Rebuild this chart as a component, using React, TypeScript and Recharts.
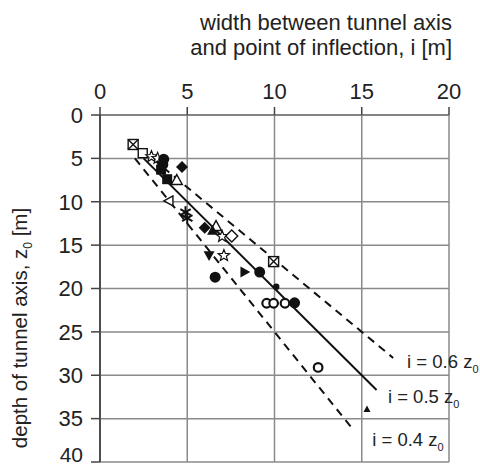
import React from "react";
import { ScatterChart, Scatter, XAxis, YAxis, CartesianGrid, Customized } from "recharts";

type P = { i: number; z: number };

const xTicks = [0, 5, 10, 15, 20];
const yTicks = [0, 5, 10, 15, 20, 25, 30, 35, 40];

// measured points (i [m], z0 [m])
const squareCross: P[] = [{ i: 1.9, z: 3.4 }, { i: 9.95, z: 16.9 }];
const squareOpen: P[] = [{ i: 2.45, z: 4.4 }];
const starOpen: P[] = [{ i: 2.95, z: 4.8 }, { i: 3.3, z: 5.0 }, { i: 7.0, z: 14.0 }, { i: 7.1, z: 16.2 }];
const circleFilled: P[] = [{ i: 3.65, z: 5.1 }, { i: 3.6, z: 5.7 }, { i: 6.6, z: 18.7 }, { i: 9.15, z: 18.1 }, { i: 11.15, z: 21.65 }];
const diamondFilled: P[] = [{ i: 4.7, z: 6.0 }, { i: 6.0, z: 13.0 }];
const squareFilled: P[] = [{ i: 3.85, z: 7.4 }, { i: 3.5, z: 6.3 }];
const triUpOpen: P[] = [{ i: 4.4, z: 7.5 }, { i: 6.65, z: 12.8 }];
const triLeftOpen: P[] = [{ i: 3.95, z: 9.9 }];
const asterisk: P[] = [{ i: 4.9, z: 11.2 }, { i: 5.0, z: 11.9 }];
const triUpFilled: P[] = [{ i: 6.45, z: 13.3 }];
const triUpSmall: P[] = [{ i: 15.3, z: 33.9 }];
const diamondOpen: P[] = [{ i: 7.55, z: 13.95 }];
const triDownFilled: P[] = [{ i: 6.25, z: 16.2 }];
const triRightFilled: P[] = [{ i: 8.3, z: 18.1 }];
const smallDot: P[] = [{ i: 10.1, z: 19.8 }];
const circleOpen: P[] = [{ i: 9.55, z: 21.7 }, { i: 9.95, z: 21.7 }, { i: 10.6, z: 21.7 }, { i: 12.5, z: 29.1 }];

// theoretical lines i = k * z0
const lineFactors = [0.6, 0.5, 0.4];
const lineZStart = [5, 5, 5];
const lineZEnd = [28, 31.7, 36.3];
const linePoints = lineFactors.map((k, n) => [
  { i: k * lineZStart[n], z: lineZStart[n] },
  { i: k * lineZEnd[n], z: lineZEnd[n] },
]);
const lineLabels = [
  { i: 17.6, z: 29.2, k: "0.6" },
  { i: 16.5, z: 33.2, k: "0.5" },
  { i: 15.6, z: 38.2, k: "0.4" },
];

const INK = "#111";
const TXT = "#222";
const FONT = "'Liberation Sans', Arial, sans-serif";

const tri = (cx: number, cy: number, s: number, dir: "up" | "down" | "left" | "right") => {
  if (dir === "up") return `${cx},${cy - s} ${cx + s},${cy + s * 0.8} ${cx - s},${cy + s * 0.8}`;
  if (dir === "down") return `${cx},${cy + s} ${cx + s},${cy - s * 0.8} ${cx - s},${cy - s * 0.8}`;
  if (dir === "left") return `${cx - s},${cy} ${cx + s * 0.8},${cy - s} ${cx + s * 0.8},${cy + s}`;
  return `${cx + s},${cy} ${cx - s * 0.8},${cy - s} ${cx - s * 0.8},${cy + s}`;
};

const starPts = (cx: number, cy: number, R: number, r: number) => {
  const pts: string[] = [];
  for (let k = 0; k < 10; k++) {
    const a = -Math.PI / 2 + (k * Math.PI) / 5;
    const rr = k % 2 === 0 ? R : r;
    pts.push(`${cx + rr * Math.cos(a)},${cy + rr * Math.sin(a)}`);
  }
  return pts.join(" ");
};

const shapes: Record<string, (p: any) => React.ReactElement> = {
  squareCross: ({ cx, cy }) => (
    <g stroke={INK} strokeWidth={1.4} fill="#fff">
      <rect x={cx - 5} y={cy - 5} width={10} height={10} />
      <line x1={cx - 5} y1={cy - 5} x2={cx + 5} y2={cy + 5} />
      <line x1={cx + 5} y1={cy - 5} x2={cx - 5} y2={cy + 5} />
    </g>
  ),
  squareOpen: ({ cx, cy }) => <rect x={cx - 4.5} y={cy - 4.5} width={9} height={9} fill="#fff" stroke={INK} strokeWidth={1.4} />,
  starOpen: ({ cx, cy }) => <polygon points={starPts(cx, cy, 6, 2.6)} fill="#fff" stroke={INK} strokeWidth={1.2} />,
  circleFilled: ({ cx, cy }) => <circle cx={cx} cy={cy} r={5.5} fill={INK} />,
  diamondFilled: ({ cx, cy }) => <polygon points={`${cx},${cy - 6} ${cx + 6},${cy} ${cx},${cy + 6} ${cx - 6},${cy}`} fill={INK} />,
  squareFilled: ({ cx, cy }) => <rect x={cx - 5} y={cy - 5} width={10} height={10} fill={INK} />,
  triUpOpen: ({ cx, cy }) => <polygon points={tri(cx, cy, 5.5, "up")} fill="#fff" stroke={INK} strokeWidth={1.4} />,
  triLeftOpen: ({ cx, cy }) => <polygon points={tri(cx, cy, 5, "left")} fill="#fff" stroke={INK} strokeWidth={1.4} />,
  asterisk: ({ cx, cy }) => (
    <g stroke={INK} strokeWidth={2}>
      <line x1={cx} y1={cy - 6} x2={cx} y2={cy + 6} />
      <line x1={cx - 5.2} y1={cy - 3} x2={cx + 5.2} y2={cy + 3} />
      <line x1={cx - 5.2} y1={cy + 3} x2={cx + 5.2} y2={cy - 3} />
    </g>
  ),
  triUpFilled: ({ cx, cy }) => <polygon points={tri(cx, cy, 5.5, "up")} fill={INK} />,
  triUpSmall: ({ cx, cy }) => <polygon points={tri(cx, cy, 3.5, "up")} fill={INK} />,
  diamondOpen: ({ cx, cy }) => <polygon points={`${cx},${cy - 6} ${cx + 6},${cy} ${cx},${cy + 6} ${cx - 6},${cy}`} fill="#fff" stroke={INK} strokeWidth={1.4} />,
  triDownFilled: ({ cx, cy }) => <polygon points={tri(cx, cy, 5.5, "down")} fill={INK} />,
  triRightFilled: ({ cx, cy }) => <polygon points={tri(cx, cy, 5.5, "right")} fill={INK} />,
  smallDot: ({ cx, cy }) => <circle cx={cx} cy={cy} r={3.2} fill={INK} />,
  circleOpen: ({ cx, cy }) => <circle cx={cx} cy={cy} r={4.3} fill="#fff" stroke={INK} strokeWidth={2.2} />,
};

const series: [string, P[]][] = [
  ["squareCross", squareCross],
  ["squareOpen", squareOpen],
  ["starOpen", starOpen],
  ["squareFilled", squareFilled],
  ["triUpOpen", triUpOpen],
  ["circleFilled", circleFilled],
  ["diamondFilled", diamondFilled],
  ["triLeftOpen", triLeftOpen],
  ["asterisk", asterisk],
  ["triUpFilled", triUpFilled],
  ["triUpSmall", triUpSmall],
  ["diamondOpen", diamondOpen],
  ["triDownFilled", triDownFilled],
  ["triRightFilled", triRightFilled],
  ["smallDot", smallDot],
  ["circleOpen", circleOpen],
];

const LineLabel = (p: any) => {
  const { cx, cy, payload } = p;
  return (
    <text x={cx} y={cy} fontSize={18.5} fill={TXT} fontFamily={FONT}>
      {`i = ${payload.k} z`}
      <tspan fontSize={11} dy={5}>0</tspan>
    </text>
  );
};

const YTick = (p: any) => {
  const { x, y, payload } = p;
  const last = payload.value === 40;
  return (
    <text x={x} y={y + (last ? -7 : 0)} dy="0.355em" textAnchor="end" fontSize={last ? 21 : 22} fill={TXT} fontFamily={FONT}>
      {payload.value}
    </text>
  );
};

const Titles = () => (
  <g fontFamily={FONT} fill={TXT}>
    <text x={452} y={30} fontSize={22} textAnchor="end">width between tunnel axis</text>
    <text x={452} y={55} fontSize={22} textAnchor="end">and point of inflection, i [m]</text>
    <text transform="translate(27,328) rotate(-90)" fontSize={20.5} textAnchor="middle">
      depth of tunnel axis, z<tspan fontSize={12} dy={5}>0</tspan><tspan dy={-5}> [m]</tspan>
    </text>
  </g>
);

export default function App() {
  return (
    <div style={{ position: "absolute", left: 0, top: 0, width: 480, height: 468, background: "#fff" }}>
      <ScatterChart width={480} height={468} margin={{ top: 75, right: 31, bottom: 6, left: 40 }}>
        <CartesianGrid stroke="#8a8a8a" strokeWidth={1.5} />
        <XAxis
          type="number"
          dataKey="i"
          orientation="top"
          domain={[0, 20]}
          ticks={xTicks}
          height={40}
          tickSize={8}
          tickMargin={8}
          axisLine={{ stroke: "#777", strokeWidth: 1.5 }}
          tickLine={{ stroke: "#444", strokeWidth: 1.5 }}
          tick={{ fontSize: 22, fill: TXT, fontFamily: FONT }}
          interval={0}
        />
        <YAxis
          type="number"
          dataKey="z"
          reversed
          domain={[0, 40]}
          ticks={yTicks}
          width={60}
          tickSize={9}
          tickMargin={8}
          axisLine={{ stroke: "#444", strokeWidth: 1.8 }}
          tickLine={{ stroke: "#444", strokeWidth: 1.5 }}
          tick={<YTick />}
          interval={0}
        />
        {linePoints.map((pts, n) => (
          <Scatter
            key={"l" + n}
            data={pts}
            line={{ stroke: INK, strokeWidth: 2, strokeDasharray: n === 1 ? undefined : "8 6" }}
            shape={() => <g />}
            isAnimationActive={false}
          />
        ))}
        {series.map(([name, data]) => (
          <Scatter key={name} data={data} shape={shapes[name]} isAnimationActive={false} />
        ))}
        <Scatter data={lineLabels} shape={LineLabel} isAnimationActive={false} />
        <Customized component={Titles} />
      </ScatterChart>
    </div>
  );
}
